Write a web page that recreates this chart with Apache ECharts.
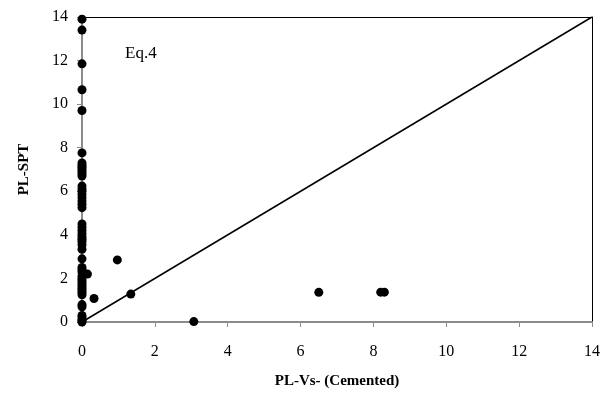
<!DOCTYPE html>
<html>
<head>
<meta charset="utf-8">
<script src="https://cdn.jsdelivr.net/npm/echarts@6/dist/echarts.min.js"></script>
<style>
  html, body { margin: 0; padding: 0; background: #fff; }
  #chart { width: 605px; height: 394px; }
</style>
</head>
<body>
<div id="chart"></div>
<script>
// Liquefaction potential: PL from Vs (cemented) vs PL from SPT
const plVs = [
  0, 0, 0, 0, 0, 0,
  0, 0, 0, 0, 0, 0, 0,
  0, 0, 0, 0, 0, 0, 0, 0,
  0, 0, 0, 0, 0, 0, 0, 0,
  0, 0, 0, 0, 0, 0,
  0, 0, 0, 0, 0, 0, 0, 0,
  0, 0, 0, 0, 0, 0, 0,
  0.15, 0.33, 0.97, 1.34, 3.07, 6.5, 8.2, 8.3
];
const plSpt = [
  13.9, 13.4, 11.85, 10.66, 9.71, 7.76,
  7.3, 7.2, 7.1, 7.0, 6.9, 6.8, 6.7,
  6.24, 6.1, 6.0, 5.85, 5.7, 5.55, 5.4, 5.25,
  4.5, 4.35, 4.2, 4.05, 3.9, 3.8, 3.7, 3.55,
  3.34, 2.9, 2.5, 2.4, 2.3, 2.1,
  1.95, 1.85, 1.75, 1.65, 1.55, 1.45, 1.35, 1.25,
  0.8, 0.7, 0.3, 0.2, 0.1, 0.05, 0,
  2.2, 1.08, 2.85, 1.28, 0.02, 1.36, 1.37, 1.37
];
const equalityLine = [[0, 0], [14, 14]];
const axisTicks = { min: 0, max: 14, interval: 2 };
const noteText = 'Eq.4';
const xTitle = 'PL-Vs- (Cemented)';
const yTitle = 'PL-SPT';

const points = plVs.map((x, i) => [x, plSpt[i]]);
const serif = '"Liberation Serif", "Times New Roman", serif';

const chart = echarts.init(document.getElementById('chart'), null, { renderer: 'canvas' });

const axisCommon = {
  type: 'value',
  min: axisTicks.min,
  max: axisTicks.max,
  interval: axisTicks.interval,
  splitLine: { show: false },
  axisLine: { show: true, onZero: false, lineStyle: { color: '#8c8c8c', width: 2 } },
  axisTick: { show: true, length: 5, lineStyle: { color: '#8c8c8c', width: 1 } },
  axisLabel: { color: '#000', fontFamily: serif, fontSize: 16 },
  nameTextStyle: { color: '#000', fontFamily: serif, fontSize: 15, fontWeight: 'bold' }
};

// plain black frame lines on the top and right
const frameAxis = {
  type: 'value',
  min: axisTicks.min,
  max: axisTicks.max,
  interval: axisTicks.interval,
  splitLine: { show: false },
  axisLine: { show: true, onZero: false, lineStyle: { color: '#000', width: 1 } },
  axisTick: { show: false },
  axisLabel: { show: false }
};

chart.setOption({
  animation: false,
  backgroundColor: '#fff',
  grid: { left: 82, right: 13, top: 17, bottom: 71 },
  xAxis: [
    Object.assign({}, axisCommon, {
      name: xTitle,
      nameLocation: 'middle',
      nameGap: 52,
      axisLabel: Object.assign({}, axisCommon.axisLabel, { margin: 22 })
    }),
    Object.assign({}, frameAxis, { position: 'top' })
  ],
  yAxis: [
    Object.assign({}, axisCommon, {
      name: yTitle,
      nameLocation: 'middle',
      nameGap: 50,
      axisLabel: Object.assign({}, axisCommon.axisLabel, { margin: 14 })
    }),
    Object.assign({}, frameAxis, { position: 'right' })
  ],
  graphic: [{
    type: 'text',
    left: 125,
    top: 45,
    style: { text: noteText, fill: '#000', font: '17px ' + serif }
  }],
  series: [
    {
      type: 'line',
      data: equalityLine,
      symbol: 'none',
      lineStyle: { color: '#000', width: 1.5 },
      z: 2
    },
    {
      type: 'scatter',
      data: points,
      symbol: 'circle',
      symbolSize: 9,
      itemStyle: { color: '#000', opacity: 1 },
      z: 3
    }
  ]
});
</script>
</body>
</html>
